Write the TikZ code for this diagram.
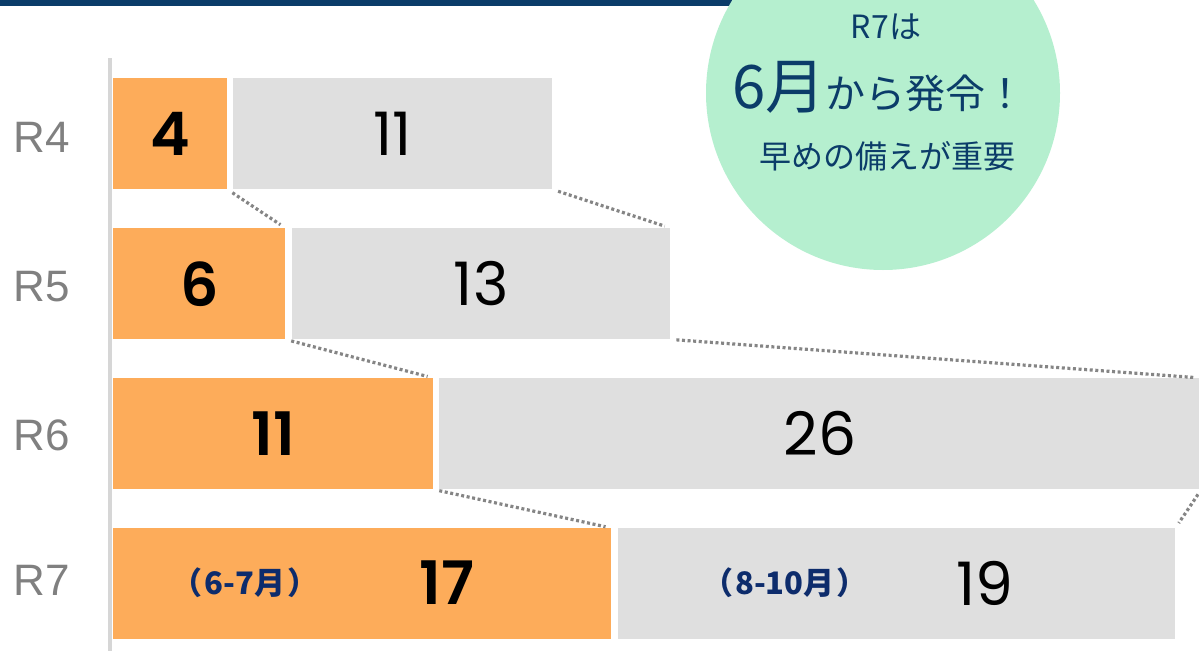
\documentclass[tikz,border=0pt]{standalone}
\usepackage{fontspec}
\setmainfont{Liberation Sans}
\newfontfamily\jpfnt{Noto Sans CJK JP}
\newfontfamily\numfnt{Poppins SemiBold}
\newfontfamily\numlfnt{Poppins}
\definecolor{navy}{HTML}{0B3C69}
\definecolor{mint}{HTML}{B5EFCF}
\definecolor{orng}{HTML}{FDAC5A}
\definecolor{lgray}{HTML}{DFDFDF}
\definecolor{dgray}{HTML}{858585}
\definecolor{rlab}{HTML}{808080}
\definecolor{lblue}{HTML}{0D2C6C}
\definecolor{axisgray}{HTML}{D6D6D6}
\begin{document}
\begin{tikzpicture}[x=1pt,y=-1pt,
  obar/.style={fill=orng, draw=none, anchor=north west, minimum height=111pt, inner sep=0pt},
  gbar/.style={fill=lgray, draw=none, anchor=north west, minimum height=111pt, inner sep=0pt},
  numb/.style={font=\numfnt\fontsize{60}{60}\selectfont, text=black, inner sep=0pt},
  numr/.style={font=\numlfnt\fontsize{60}{60}\selectfont, text=black, inner sep=0pt},
  rlabel/.style={font=\fontsize{44}{44}\selectfont, text=rlab, inner sep=0pt},
  mlab/.style={font=\jpfnt\bfseries\fontsize{31}{31}\selectfont, text=lblue, inner sep=0pt},
  ctext/.style={text=navy, inner sep=0pt, anchor=base},
  dots/.style={draw=dgray, line width=3.2pt, dash pattern=on 3pt off 2.6pt, shorten <=6pt, shorten >=6pt},
  axisline/.style={draw=axisgray, line width=3.5pt}]
\useasboundingbox (0,0) rectangle (1199,651);
% top bar
\node[fill=navy, rounded corners=14pt, minimum width=775pt, minimum height=40pt, anchor=south west, inner sep=0pt] (topbar) at (-30,6) {};
% bubble
\node[circle, fill=mint, minimum size=354pt, inner sep=0pt] (bubble) at (883,93) {};
\node[ctext, font=\jpfnt\fontsize{32}{32}\selectfont] (t1) at (886,38) {R7は};
\node[ctext, font=\jpfnt] (t2) at (879,108) {{\fontsize{60}{60}\selectfont 6月}{\fontsize{40}{40}\selectfont から発令！}};
\node[ctext, font=\jpfnt\fontsize{32}{32}\selectfont] (t3) at (887,168) {早めの備えが重要};
% axis
\coordinate (axtop) at (110,58);
\coordinate (axbot) at (110,651);
\draw[axisline] (axtop) -- (axbot);
% bars
\node[obar, minimum width=114pt] (o4) at (113,78) {};
\node[gbar, minimum width=319pt] (g4) at (233,78) {};
\node[obar, minimum width=172pt] (o5) at (113,228) {};
\node[gbar, minimum width=378pt] (g5) at (292,228) {};
\node[obar, minimum width=320pt] (o6) at (113,378) {};
\node[gbar, minimum width=762pt] (g6) at (439,378) {};
\node[obar, minimum width=498pt] (o7) at (113,528) {};
\node[gbar, minimum width=557pt] (g7) at (618,528) {};
% connectors
\draw[dots] (o4.south east) -- (o5.north east);
\draw[dots] (g4.south east) -- (g5.north east);
\draw[dots] (o5.south east) -- (o6.north east);
\draw[dots] (g5.south east) -- (g6.north east);
\draw[dots] (o6.south east) -- (o7.north east);
\draw[dots] (g6.south east) -- (g7.north east);
% numbers
\node[numb] (n4a) at (o4.center) {4};
\node[numr] (n4b) at (g4.center) {11};
\node[numb] (n5a) at (o5.center) {6};
\node[numr] (n5b) at (g5.center) {13};
\node[numb] (n6a) at (o6.center) {11};
\node[numr] (n6b) at (g6.center) {26};
\node[numb] (n7a) at (447,583) {17};
\node[numr] (n7b) at (985,583) {19};
\node[mlab] (l7a) at (245,583) {（\kern2pt 6-7月\kern2pt）};
\node[mlab] (l7b) at (785,583) {（\kern2pt 8-10月\kern2pt）};
% row labels
\node[rlabel] (r4) at (42,137) {R4};
\node[rlabel] (r5) at (42,287) {R5};
\node[rlabel] (r6) at (42,435) {R6};
\node[rlabel] (r7) at (42,580) {R7};
\end{tikzpicture}
\end{document}
